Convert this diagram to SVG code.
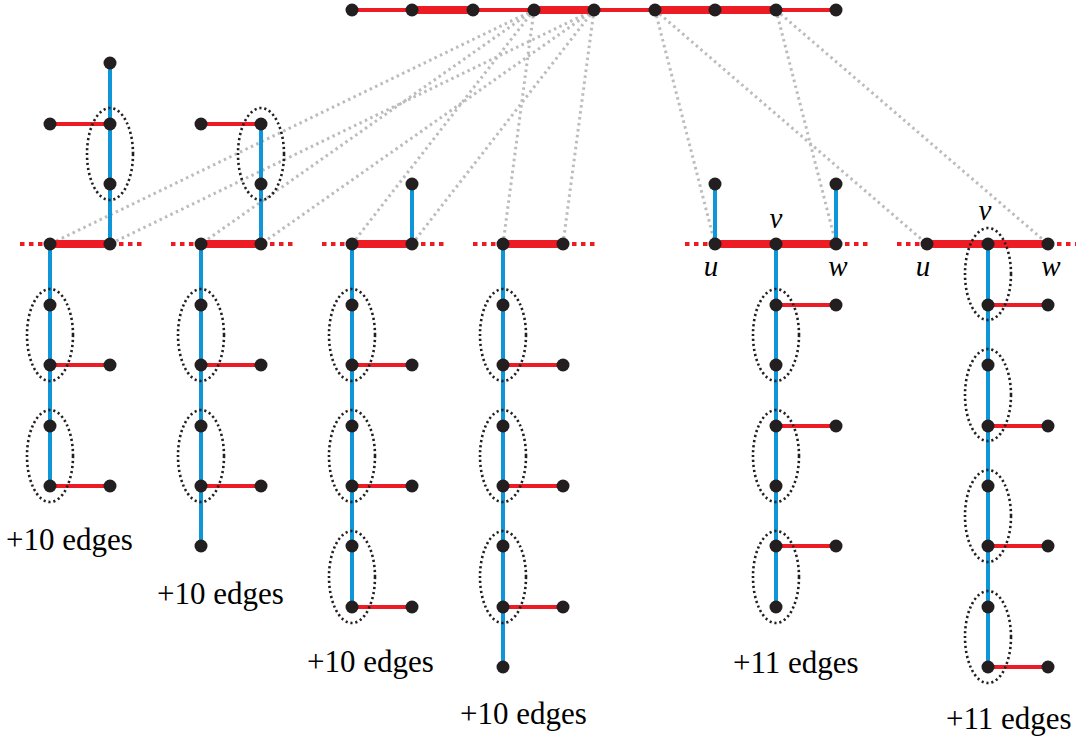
<svg xmlns="http://www.w3.org/2000/svg" width="1076" height="736" viewBox="0 0 1076 736">
<defs>
<circle id="n" r="6.5" fill="#231f20"/>
<ellipse id="ov" rx="23" ry="46" fill="none" stroke="#231f20" stroke-width="2.6" stroke-dasharray="2.2 2.8"/>
</defs>
<rect fill="#fff" width="1076" height="736"/>
<g id="connectors" fill="none">
<g id="gray-links" stroke="#bcbcbc" stroke-width="3" stroke-dasharray="2.5 3.5">
<line x1="534" y1="10" x2="50" y2="244"/>
<line x1="534" y1="10" x2="201" y2="244"/>
<line x1="534" y1="10" x2="352" y2="244"/>
<line x1="534" y1="10" x2="503" y2="244"/>
<line x1="594" y1="10" x2="110" y2="244"/>
<line x1="594" y1="10" x2="261" y2="244"/>
<line x1="594" y1="10" x2="412" y2="244"/>
<line x1="594" y1="10" x2="563" y2="244"/>
<line x1="655" y1="10" x2="715" y2="244"/>
<line x1="655" y1="10" x2="927" y2="244"/>
<line x1="776" y1="10" x2="836" y2="244"/>
<line x1="776" y1="10" x2="1048" y2="244"/>
</g>
<g id="red-dotted" stroke="#ed1c24" stroke-width="4" stroke-dasharray="4.5 4.5">
<line x1="20" y1="244" x2="50" y2="244"/>
<line x1="110" y1="244" x2="142" y2="244"/>
<line x1="171" y1="244" x2="201" y2="244"/>
<line x1="261" y1="244" x2="293" y2="244"/>
<line x1="322" y1="244" x2="352" y2="244"/>
<line x1="412" y1="244" x2="444" y2="244"/>
<line x1="473" y1="244" x2="503" y2="244"/>
<line x1="563" y1="244" x2="595" y2="244"/>
<line x1="685" y1="244" x2="715" y2="244"/>
<line x1="836" y1="244" x2="868" y2="244"/>
<line x1="897" y1="244" x2="927" y2="244"/>
<line x1="1048" y1="244" x2="1076" y2="244"/>
</g>
<g id="red-thick" stroke="#ed1c24" stroke-width="8">
<line x1="412" y1="10" x2="473" y2="10"/>
<line x1="534" y1="10" x2="594" y2="10"/>
<line x1="655" y1="10" x2="776" y2="10"/>
<line x1="50" y1="244" x2="110" y2="244"/>
<line x1="201" y1="244" x2="261" y2="244"/>
<line x1="352" y1="244" x2="412" y2="244"/>
<line x1="503" y1="244" x2="563" y2="244"/>
<line x1="715" y1="244" x2="836" y2="244"/>
<line x1="927" y1="244" x2="1048" y2="244"/>
</g>
<g id="blue" stroke="#0f96d8" stroke-width="4">
<line x1="110" y1="63" x2="110" y2="244"/>
<line x1="50" y1="244" x2="50" y2="486"/>
<line x1="261" y1="124" x2="261" y2="244"/>
<line x1="201" y1="244" x2="201" y2="546"/>
<line x1="412" y1="184" x2="412" y2="244"/>
<line x1="352" y1="244" x2="352" y2="607"/>
<line x1="503" y1="244" x2="503" y2="667"/>
<line x1="715" y1="184" x2="715" y2="244"/>
<line x1="836" y1="184" x2="836" y2="244"/>
<line x1="776" y1="244" x2="776" y2="607"/>
<line x1="988" y1="244" x2="988" y2="667"/>
</g>
<g id="red-thin" stroke="#ed1c24" stroke-width="4">
<line x1="352" y1="10" x2="412" y2="10"/>
<line x1="473" y1="10" x2="534" y2="10"/>
<line x1="594" y1="10" x2="655" y2="10"/>
<line x1="776" y1="10" x2="836" y2="10"/>
<line x1="50" y1="124" x2="110" y2="124"/>
<line x1="50" y1="365" x2="110" y2="365"/>
<line x1="50" y1="486" x2="110" y2="486"/>
<line x1="201" y1="124" x2="261" y2="124"/>
<line x1="201" y1="365" x2="261" y2="365"/>
<line x1="201" y1="486" x2="261" y2="486"/>
<line x1="352" y1="365" x2="412" y2="365"/>
<line x1="352" y1="486" x2="412" y2="486"/>
<line x1="352" y1="607" x2="412" y2="607"/>
<line x1="503" y1="365" x2="563" y2="365"/>
<line x1="503" y1="486" x2="563" y2="486"/>
<line x1="503" y1="607" x2="563" y2="607"/>
<line x1="776" y1="305" x2="836" y2="305"/>
<line x1="776" y1="426" x2="836" y2="426"/>
<line x1="776" y1="546" x2="836" y2="546"/>
<line x1="988" y1="305" x2="1048" y2="305"/>
<line x1="988" y1="426" x2="1048" y2="426"/>
<line x1="988" y1="546" x2="1048" y2="546"/>
<line x1="988" y1="667" x2="1048" y2="667"/>
</g>
</g>
<g id="groups">
<use href="#ov" x="110" y="154"/>
<use href="#ov" x="50" y="335"/>
<use href="#ov" x="50" y="456"/>
<use href="#ov" x="261" y="154"/>
<use href="#ov" x="201" y="335"/>
<use href="#ov" x="201" y="456"/>
<use href="#ov" x="352" y="335"/>
<use href="#ov" x="352" y="456"/>
<use href="#ov" x="352" y="577"/>
<use href="#ov" x="503" y="335"/>
<use href="#ov" x="503" y="456"/>
<use href="#ov" x="503" y="577"/>
<use href="#ov" x="776" y="335"/>
<use href="#ov" x="776" y="456"/>
<use href="#ov" x="776" y="577"/>
<use href="#ov" x="988" y="274"/>
<use href="#ov" x="988" y="395"/>
<use href="#ov" x="988" y="516"/>
<use href="#ov" x="988" y="637"/>
</g>
<g id="top-nodes">
<g id="t1"><use href="#n" x="352" y="10"/></g>
<g id="t2"><use href="#n" x="412" y="10"/></g>
<g id="t3"><use href="#n" x="473" y="10"/></g>
<g id="t4"><use href="#n" x="534" y="10"/></g>
<g id="t5"><use href="#n" x="594" y="10"/></g>
<g id="t6"><use href="#n" x="655" y="10"/></g>
<g id="t7"><use href="#n" x="715" y="10"/></g>
<g id="t8"><use href="#n" x="776" y="10"/></g>
<g id="t9"><use href="#n" x="836" y="10"/></g>
</g>
<g id="col1-nodes">
<g id="a0"><use href="#n" x="110" y="63"/></g>
<g id="al"><use href="#n" x="50" y="124"/></g>
<g id="am1"><use href="#n" x="110" y="124"/></g>
<g id="am2"><use href="#n" x="110" y="184"/></g>
<g id="au"><use href="#n" x="50" y="244"/></g>
<g id="aw"><use href="#n" x="110" y="244"/></g>
<g id="a1"><use href="#n" x="50" y="305"/></g>
<g id="a2"><use href="#n" x="50" y="365"/></g>
<g id="a2r"><use href="#n" x="110" y="365"/></g>
<g id="a3"><use href="#n" x="50" y="426"/></g>
<g id="a4"><use href="#n" x="50" y="486"/></g>
<g id="a4r"><use href="#n" x="110" y="486"/></g>
</g>
<g id="col2-nodes">
<g id="bl"><use href="#n" x="201" y="124"/></g>
<g id="bm1"><use href="#n" x="261" y="124"/></g>
<g id="bm2"><use href="#n" x="261" y="184"/></g>
<g id="bu"><use href="#n" x="201" y="244"/></g>
<g id="bw"><use href="#n" x="261" y="244"/></g>
<g id="b1"><use href="#n" x="201" y="305"/></g>
<g id="b2"><use href="#n" x="201" y="365"/></g>
<g id="b2r"><use href="#n" x="261" y="365"/></g>
<g id="b3"><use href="#n" x="201" y="426"/></g>
<g id="b4"><use href="#n" x="201" y="486"/></g>
<g id="b4r"><use href="#n" x="261" y="486"/></g>
<g id="b5"><use href="#n" x="201" y="546"/></g>
</g>
<g id="col3-nodes">
<g id="c0"><use href="#n" x="412" y="184"/></g>
<g id="cu"><use href="#n" x="352" y="244"/></g>
<g id="cw"><use href="#n" x="412" y="244"/></g>
<g id="c1"><use href="#n" x="352" y="305"/></g>
<g id="c2"><use href="#n" x="352" y="365"/></g>
<g id="c2r"><use href="#n" x="412" y="365"/></g>
<g id="c3"><use href="#n" x="352" y="426"/></g>
<g id="c4"><use href="#n" x="352" y="486"/></g>
<g id="c4r"><use href="#n" x="412" y="486"/></g>
<g id="c5"><use href="#n" x="352" y="546"/></g>
<g id="c6"><use href="#n" x="352" y="607"/></g>
<g id="c6r"><use href="#n" x="412" y="607"/></g>
</g>
<g id="col4-nodes">
<g id="du"><use href="#n" x="503" y="244"/></g>
<g id="dw"><use href="#n" x="563" y="244"/></g>
<g id="d1"><use href="#n" x="503" y="305"/></g>
<g id="d2"><use href="#n" x="503" y="365"/></g>
<g id="d2r"><use href="#n" x="563" y="365"/></g>
<g id="d3"><use href="#n" x="503" y="426"/></g>
<g id="d4"><use href="#n" x="503" y="486"/></g>
<g id="d4r"><use href="#n" x="563" y="486"/></g>
<g id="d5"><use href="#n" x="503" y="546"/></g>
<g id="d6"><use href="#n" x="503" y="607"/></g>
<g id="d6r"><use href="#n" x="563" y="607"/></g>
<g id="d7"><use href="#n" x="503" y="667"/></g>
</g>
<g id="col5-nodes">
<g id="eut"><use href="#n" x="715" y="184"/></g>
<g id="ewt"><use href="#n" x="836" y="184"/></g>
<g id="eu"><use href="#n" x="715" y="244"/></g>
<g id="ev"><use href="#n" x="776" y="244"/></g>
<g id="ew"><use href="#n" x="836" y="244"/></g>
<g id="e1"><use href="#n" x="776" y="305"/></g>
<g id="e1r"><use href="#n" x="836" y="305"/></g>
<g id="e2"><use href="#n" x="776" y="365"/></g>
<g id="e3"><use href="#n" x="776" y="426"/></g>
<g id="e3r"><use href="#n" x="836" y="426"/></g>
<g id="e4"><use href="#n" x="776" y="486"/></g>
<g id="e5"><use href="#n" x="776" y="546"/></g>
<g id="e5r"><use href="#n" x="836" y="546"/></g>
<g id="e6"><use href="#n" x="776" y="607"/></g>
</g>
<g id="col6-nodes">
<g id="fu"><use href="#n" x="927" y="244"/></g>
<g id="fv"><use href="#n" x="988" y="244"/></g>
<g id="fw"><use href="#n" x="1048" y="244"/></g>
<g id="f1"><use href="#n" x="988" y="305"/></g>
<g id="f1r"><use href="#n" x="1048" y="305"/></g>
<g id="f2"><use href="#n" x="988" y="365"/></g>
<g id="f3"><use href="#n" x="988" y="426"/></g>
<g id="f3r"><use href="#n" x="1048" y="426"/></g>
<g id="f4"><use href="#n" x="988" y="486"/></g>
<g id="f5"><use href="#n" x="988" y="546"/></g>
<g id="f5r"><use href="#n" x="1048" y="546"/></g>
<g id="f6"><use href="#n" x="988" y="607"/></g>
<g id="f7"><use href="#n" x="988" y="667"/></g>
<g id="f7r"><use href="#n" x="1048" y="667"/></g>
</g>
<text x="776" y="228" font-size="29" font-family="Liberation Serif" font-style="italic" text-anchor="middle">v</text>
<text x="711" y="276" font-size="29" font-family="Liberation Serif" font-style="italic" text-anchor="middle">u</text>
<text x="838" y="276" font-size="29" font-family="Liberation Serif" font-style="italic" text-anchor="middle">w</text>
<text x="985" y="220" font-size="29" font-family="Liberation Serif" font-style="italic" text-anchor="middle">v</text>
<text x="923" y="276" font-size="29" font-family="Liberation Serif" font-style="italic" text-anchor="middle">u</text>
<text x="1051" y="276" font-size="29" font-family="Liberation Serif" font-style="italic" text-anchor="middle">w</text>
<text x="6" y="550" font-size="31" font-family="Liberation Serif">+10 edges</text>
<text x="157" y="604" font-size="31" font-family="Liberation Serif">+10 edges</text>
<text x="307" y="672" font-size="31" font-family="Liberation Serif">+10 edges</text>
<text x="460" y="724" font-size="31" font-family="Liberation Serif">+10 edges</text>
<text x="733" y="673" font-size="31" font-family="Liberation Serif">+11 edges</text>
<text x="946" y="729" font-size="31" font-family="Liberation Serif">+11 edges</text>
</svg>
